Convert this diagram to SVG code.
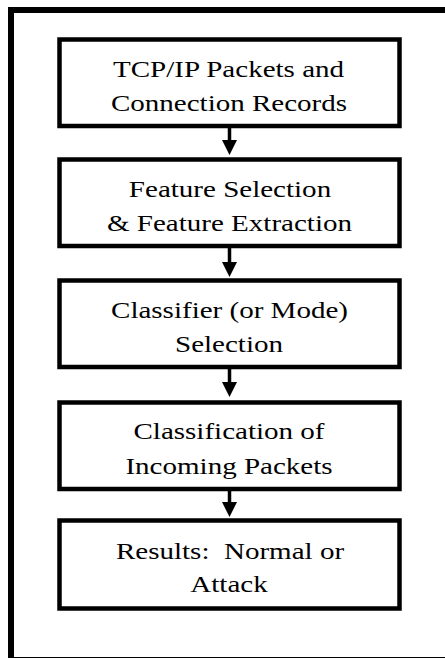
<svg xmlns="http://www.w3.org/2000/svg" width="445" height="658" viewBox="0 0 445 658">
<style>
.box{fill:#fff;stroke:#000;stroke-width:4.5}
.c{stroke:#000;stroke-width:3.5;fill:none}
.t{font-family:'Liberation Serif','Times New Roman',Times,serif;font-size:24px;fill:#000;text-anchor:middle}
</style>
<rect x="11" y="10" width="460" height="650" fill="#fff" stroke="#000" stroke-width="6"/>
<g id="connectors">
<line class="c" x1="229.5" y1="128" x2="229.5" y2="140"/>
<path d="M222,140 L237,140 L229.5,155 Z"/>
<line class="c" x1="229.5" y1="248" x2="229.5" y2="262"/>
<path d="M222,262 L237,262 L229.5,277 Z"/>
<line class="c" x1="229.5" y1="369" x2="229.5" y2="382"/>
<path d="M222,382 L237,382 L229.5,397 Z"/>
<line class="c" x1="229.5" y1="491" x2="229.5" y2="502"/>
<path d="M222,502 L237,502 L229.5,517 Z"/>
</g>
<g id="n1">
<rect class="box" x="59.5" y="39.5" width="340" height="86.5"/>
<text class="t" transform="translate(228.5 77) scale(1.21 1)">TCP/IP Packets and</text>
<text class="t" transform="translate(229 110.5) scale(1.21 1)">Connection Records</text>
</g>
<g id="n2">
<rect class="box" x="59.5" y="159.5" width="340" height="86.5"/>
<text class="t" transform="translate(230 197) scale(1.21 1)">Feature Selection</text>
<text class="t" transform="translate(229.5 230.5) scale(1.21 1)">&amp; Feature Extraction</text>
</g>
<g id="n3">
<rect class="box" x="59.5" y="280.5" width="340" height="86.5"/>
<text class="t" transform="translate(229.5 318) scale(1.21 1)">Classifier (or Mode)</text>
<text class="t" transform="translate(229 351.5) scale(1.21 1)">Selection</text>
</g>
<g id="n4">
<rect class="box" x="59.5" y="402.5" width="340" height="86.5"/>
<text class="t" transform="translate(229 438.5) scale(1.21 1)">Classification of</text>
<text class="t" transform="translate(229 473.5) scale(1.21 1)">Incoming Packets</text>
</g>
<g id="n5">
<rect class="box" x="59.5" y="520.5" width="340" height="88"/>
<text class="t" transform="translate(230 559) scale(1.21 1)" xml:space="preserve">Results:  Normal or</text>
<text class="t" transform="translate(229 592) scale(1.21 1)">Attack</text>
</g>
</svg>
